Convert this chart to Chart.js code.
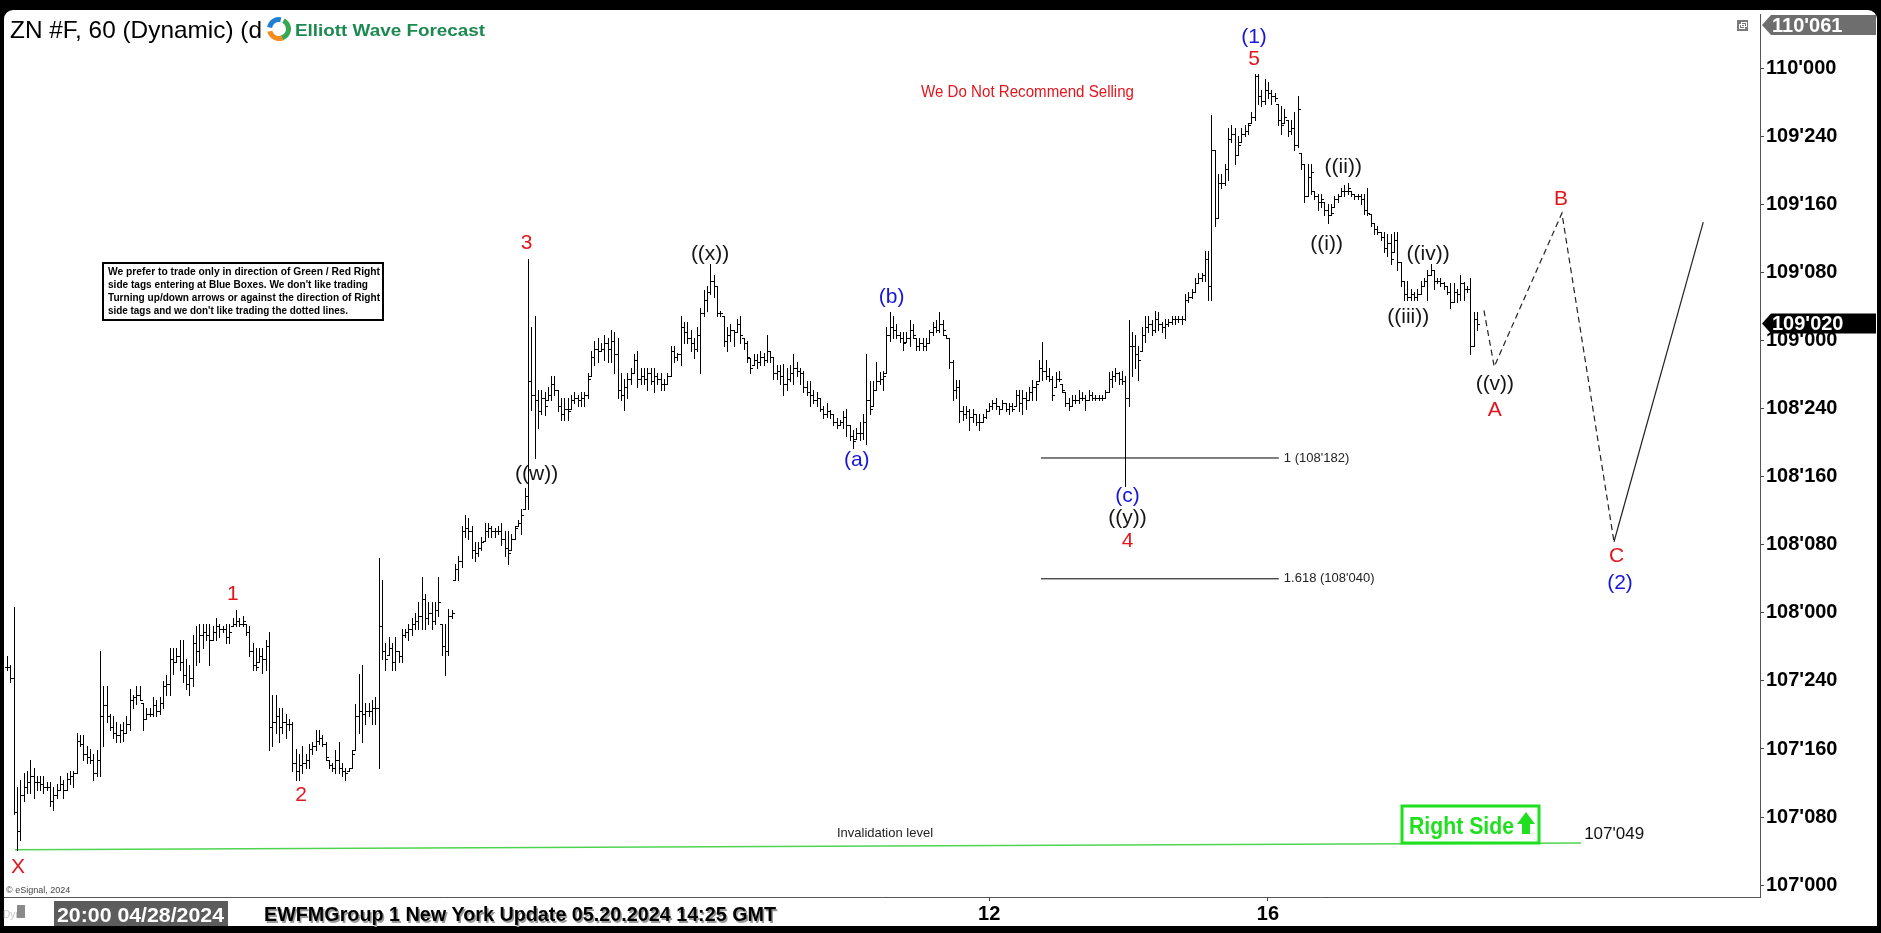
<!DOCTYPE html>
<html>
<head>
<meta charset="utf-8">
<title>ZN #F, 60</title>
<script src="https://cdn.jsdelivr.net/npm/chart.js@4.4.1/dist/chart.umd.min.js"></script>
<style>
  html, body { margin: 0; padding: 0; background: #000; overflow: hidden; }
  #wrap { width: 1881px; height: 933px; }
</style>
</head>
<body>
<div id="wrap"><canvas id="zn" width="1881" height="933"></canvas></div>
<script>
// ZN #F 60 min bars (prices in points, 32nds shown on the axis)
const highs = [
  // 04/28 .. wave 3 spike
  107.84,107.81,108.02,107.36,107.385,107.41,107.42,107.46,107.43,107.40,
  107.40,107.40,107.38,107.38,107.36,107.37,107.40,107.385,107.41,107.42,
  107.42,107.56,107.55,107.55,107.51,107.50,107.48,107.495,107.86,107.73,
  107.73,107.63,107.62,107.60,107.59,107.60,107.62,107.72,107.70,107.73,
  107.73,107.67,107.65,107.65,107.69,107.68,107.69,107.75,107.77,107.87,
  107.87,107.87,107.90,107.90,107.83,107.81,107.92,107.95,107.96,107.96,
  107.96,107.96,107.95,107.98,107.96,107.95,107.96,107.96,107.98,108.01,
  107.98,107.99,107.96,107.95,107.89,107.87,107.87,107.87,107.90,107.93,
  107.70,107.70,107.65,107.65,107.63,107.61,107.60,107.50,107.48,107.51,
  107.48,107.52,107.525,107.57,107.57,107.55,107.525,107.46,107.45,107.495,
  107.525,107.45,107.43,107.43,107.495,107.665,107.775,107.81,107.67,107.67,
  107.68,107.69,108.20,108.12,
  107.89,107.91,107.89,107.91,107.86,107.94,107.94,107.96,107.98,108.00,
  108.04,108.13,108.07,108.04,108.04,108.04,108.13,107.96,107.96,108.015,
  108.01,108.18,108.21,108.32,108.36,108.35,108.32,108.26,108.26,108.28,
  108.33,108.33,108.32,108.31,108.32,108.33,108.30,108.30,108.29,108.32,
  108.34,108.38,108.46,109.30,109.05,109.09,108.82,108.82,108.81,108.83,
  108.87,108.87,108.82,108.79,108.79,108.79,108.80,108.81,108.80,108.81,
  108.81,108.88,108.96,109.00,109.01,108.99,109.02,109.01,109.04,109.03,
  109.01,108.88,108.86,108.88,108.90,108.95,108.96,108.90,108.90,108.90,
  108.90,108.90,108.88,108.88,108.86,108.88,108.98,108.98,108.955,109.09,
  109.07,109.07,109.04,109.01,109.05,109.12,109.185,109.20,109.28,109.24,
  109.20,109.11,109.09,109.05,109.06,109.04,109.08,109.09,109.01,109.00,
  108.935,108.95,108.95,108.96,108.955,109.02,108.96,108.94,108.91,108.91,
  108.915,108.90,108.91,108.95,108.92,
  // (a) (b) (c) into wave 4
  108.90,108.89,108.85,108.85,108.82,108.81,108.79,108.76,108.77,108.745,
  108.73,108.715,108.71,108.74,108.75,108.69,108.67,108.68,108.70,108.73,
  108.95,108.85,108.85,108.92,108.885,108.89,109.05,109.105,109.09,109.06,
  109.03,109.03,109.03,109.075,109.06,109.01,109.01,109.01,109.01,109.04,
  109.07,109.075,109.105,109.075,109.02,109.01,108.93,108.855,108.855,108.76,
  108.76,108.75,108.75,108.73,108.73,108.73,108.75,108.77,108.78,108.79,
  108.76,108.78,108.77,108.77,108.77,108.82,108.82,108.82,108.81,108.83,
  108.855,108.85,108.93,108.995,108.93,108.90,108.87,108.885,108.89,108.84,
  108.81,108.79,108.80,108.80,108.82,108.81,108.80,108.82,108.81,108.80,
  108.80,108.80,108.82,108.885,108.89,108.90,108.885,108.89,108.87,109.075,
  109.03,109.02,108.98,109.05,109.09,109.09,109.075,109.11,109.105,109.07,
  109.08,109.08,109.09,109.09,109.09,109.09,109.17,109.18,109.19,109.23,
  // wave 5 and the drop from (1)
  109.25,109.25,109.33,109.33,109.83,109.70,109.61,109.61,109.65,109.78,
  109.79,109.78,109.75,109.78,109.79,109.80,109.84,109.98,109.98,109.92,
  109.96,109.95,109.92,109.91,109.87,109.86,109.85,109.81,109.81,109.84,
  109.90,109.69,109.65,109.65,109.65,109.55,109.54,109.54,109.51,109.50,
  109.50,109.53,109.54,109.56,109.57,109.58,109.55,109.54,109.54,109.54,
  109.54,109.56,109.465,109.43,109.42,109.40,109.40,109.39,109.39,109.40,
  109.40,109.29,109.22,109.22,109.19,109.18,109.19,109.22,109.23,109.26,
  109.28,109.26,109.23,109.23,109.215,109.20,109.21,109.21,109.19,109.24,
  109.215,109.20,109.23,109.105,109.105
];
const lows = [
  107.79,107.745,107.26,107.13,107.165,107.31,107.34,107.34,107.32,107.35,
  107.35,107.34,107.35,107.29,107.275,107.32,107.35,107.32,107.35,107.37,
  107.36,107.41,107.51,107.46,107.45,107.45,107.385,107.40,107.40,107.51,
  107.60,107.57,107.54,107.525,107.525,107.53,107.56,107.57,107.65,107.665,
  107.68,107.57,107.61,107.62,107.62,107.62,107.63,107.65,107.70,107.70,
  107.775,107.82,107.79,107.745,107.72,107.70,107.73,107.81,107.82,107.87,
  107.90,107.81,107.90,107.90,107.91,107.93,107.89,107.89,107.95,107.95,
  107.95,107.95,107.92,107.84,107.79,107.79,107.82,107.78,107.79,107.495,
  107.51,107.56,107.525,107.56,107.54,107.57,107.42,107.385,107.385,107.41,
  107.43,107.43,107.48,107.495,107.52,107.51,107.46,107.43,107.42,107.41,
  107.41,107.40,107.385,107.42,107.43,107.495,107.56,107.525,107.59,107.62,
  107.59,107.59,107.43,107.83,
  107.79,107.845,107.79,107.79,107.82,107.82,107.91,107.90,107.92,107.94,
  107.94,107.94,107.94,107.96,107.94,107.96,107.99,107.845,107.77,107.845,
  107.98,108.12,108.12,108.17,108.28,108.27,108.20,108.19,108.21,108.23,
  108.265,108.28,108.28,108.28,108.29,108.25,108.21,108.18,108.23,108.27,
  108.32,108.29,108.38,108.38,108.745,108.57,108.68,108.73,108.725,108.78,
  108.78,108.80,108.74,108.71,108.71,108.71,108.75,108.77,108.76,108.76,
  108.76,108.79,108.87,108.91,108.92,108.96,108.93,108.92,108.92,108.88,
  108.79,108.78,108.745,108.79,108.84,108.88,108.83,108.84,108.84,108.82,
  108.84,108.81,108.84,108.82,108.82,108.84,108.87,108.92,108.93,108.91,
  108.99,108.99,108.96,108.935,108.96,108.88,109.09,109.11,109.17,109.16,
  109.09,109.09,108.98,108.96,109.00,108.98,109.03,108.99,108.97,108.92,
  108.88,108.91,108.90,108.91,108.91,108.92,108.92,108.86,108.86,108.84,
  108.80,108.82,108.85,108.84,108.87,
  108.84,108.81,108.80,108.76,108.77,108.76,108.74,108.715,108.72,108.715,
  108.69,108.68,108.69,108.68,108.65,108.635,108.605,108.64,108.635,108.64,
  108.62,108.73,108.76,108.82,108.84,108.82,108.88,109.00,109.01,109.01,
  108.995,108.965,108.995,108.98,109.01,108.965,108.965,108.965,108.965,108.99,
  109.02,109.03,109.03,109.02,109.01,108.90,108.78,108.79,108.70,108.71,
  108.715,108.67,108.70,108.69,108.67,108.70,108.715,108.74,108.75,108.75,
  108.73,108.75,108.74,108.73,108.74,108.76,108.74,108.73,108.75,108.78,
  108.78,108.78,108.85,108.855,108.86,108.85,108.78,108.83,108.85,108.81,
  108.76,108.745,108.76,108.77,108.77,108.78,108.745,108.78,108.78,108.78,
  108.78,108.78,108.79,108.81,108.83,108.85,108.84,108.84,108.465,108.76,
  108.87,108.90,108.855,108.96,108.995,109.03,109.02,109.03,109.04,109.03,
  109.01,109.055,109.06,109.06,109.07,109.06,109.075,109.14,109.155,109.18,
  109.21,109.22,109.22,109.15,109.15,109.42,109.45,109.56,109.57,109.59,
  109.73,109.65,109.68,109.73,109.75,109.76,109.80,109.81,109.87,109.86,
  109.87,109.89,109.87,109.88,109.79,109.76,109.80,109.75,109.76,109.70,
  109.71,109.63,109.51,109.53,109.54,109.52,109.48,109.49,109.46,109.43,
  109.46,109.49,109.51,109.53,109.53,109.54,109.53,109.52,109.52,109.50,
  109.465,109.46,109.42,109.39,109.39,109.37,109.325,109.31,109.28,109.325,
  109.26,109.20,109.15,109.15,109.15,109.15,109.15,109.17,109.20,109.15,
  109.24,109.19,109.21,109.20,109.19,109.17,109.12,109.14,109.14,109.15,
  109.15,109.18,108.95,108.98,109.04
];
const closes = [
  107.80,107.76,107.27,107.20,107.33,107.36,107.38,107.40,107.38,107.38,
  107.37,107.36,107.36,107.31,107.33,107.35,107.37,107.35,107.39,107.40,
  107.41,107.53,107.52,107.48,107.47,107.46,107.41,107.46,107.62,107.66,
  107.62,107.58,107.56,107.55,107.57,107.56,107.59,107.68,107.69,107.70,
  107.68,107.61,107.63,107.63,107.66,107.64,107.67,107.73,107.74,107.83,
  107.82,107.84,107.82,107.77,107.74,107.76,107.89,107.86,107.92,107.93,
  107.92,107.90,107.93,107.95,107.94,107.94,107.91,107.93,107.96,107.97,
  107.96,107.97,107.93,107.86,107.81,107.80,107.84,107.83,107.88,107.58,
  107.60,107.62,107.58,107.60,107.59,107.59,107.45,107.42,107.44,107.45,
  107.46,107.50,107.51,107.53,107.54,107.52,107.47,107.44,107.43,107.46,
  107.43,107.42,107.41,107.43,107.48,107.62,107.64,107.63,107.64,107.64,
  107.65,107.65,107.95,107.86,
  107.83,107.87,107.82,107.86,107.84,107.92,107.93,107.94,107.96,107.97,
  107.99,108.05,107.98,108.00,107.97,108.01,108.04,107.88,107.86,107.99,
  108.00,108.16,108.19,108.30,108.31,108.30,108.23,108.22,108.24,108.26,
  108.30,108.31,108.30,108.30,108.30,108.27,108.24,108.22,108.27,108.31,
  108.33,108.36,108.43,108.85,108.80,108.78,108.74,108.79,108.76,108.80,
  108.84,108.82,108.76,108.73,108.75,108.74,108.78,108.79,108.78,108.79,
  108.80,108.86,108.94,108.97,108.96,108.97,108.99,108.97,109.00,108.95,
  108.82,108.80,108.83,108.86,108.88,108.93,108.86,108.87,108.86,108.88,
  108.85,108.87,108.86,108.84,108.84,108.87,108.96,108.94,108.95,109.05,
  109.03,109.01,108.99,108.97,109.02,109.10,109.15,109.18,109.22,109.20,
  109.10,109.10,109.00,109.02,109.04,109.03,109.06,109.02,108.99,108.94,
  108.90,108.93,108.92,108.94,108.93,108.96,108.94,108.88,108.89,108.87,
  108.84,108.86,108.88,108.90,108.89,
  108.88,108.83,108.81,108.80,108.78,108.79,108.75,108.73,108.74,108.73,
  108.70,108.69,108.70,108.72,108.69,108.65,108.63,108.66,108.66,108.70,
  108.78,108.75,108.82,108.85,108.86,108.87,109.02,109.05,109.04,109.02,
  109.01,108.99,109.01,109.04,109.02,108.98,108.99,108.98,108.99,109.03,
  109.05,109.04,109.06,109.04,109.01,108.92,108.82,108.83,108.74,108.73,
  108.74,108.72,108.73,108.70,108.70,108.72,108.74,108.76,108.77,108.76,
  108.75,108.77,108.75,108.76,108.75,108.80,108.77,108.79,108.78,108.81,
  108.83,108.84,108.90,108.89,108.87,108.86,108.80,108.86,108.86,108.82,
  108.77,108.76,108.78,108.78,108.79,108.79,108.78,108.80,108.79,108.79,
  108.79,108.79,108.81,108.86,108.87,108.88,108.86,108.85,108.79,108.98,
  108.98,108.95,108.93,109.02,109.05,109.06,109.04,109.08,109.06,109.05,
  109.06,109.07,109.08,109.08,109.08,109.08,109.15,109.16,109.18,109.21,
  109.23,109.24,109.30,109.20,109.70,109.45,109.58,109.58,109.63,109.74,
  109.76,109.68,109.72,109.76,109.77,109.79,109.82,109.97,109.90,109.88,
  109.92,109.91,109.90,109.89,109.81,109.79,109.82,109.77,109.78,109.72,
  109.85,109.65,109.53,109.60,109.62,109.53,109.51,109.52,109.48,109.46,
  109.47,109.52,109.53,109.55,109.55,109.56,109.54,109.53,109.53,109.52,
  109.48,109.47,109.43,109.41,109.40,109.38,109.34,109.36,109.30,109.37,
  109.29,109.22,109.17,109.16,109.17,109.16,109.17,109.20,109.22,109.24,
  109.26,109.22,109.22,109.21,109.20,109.18,109.14,109.18,109.17,109.21,
  109.19,109.19,108.98,109.08,109.06
];

// date axis (bar index of the day marks)
const dayTickIdx = [296, 380];
const dayTickLabels = ['12', '16'];

// price axis, every 8/32
const priceTicks = [107, 107.25, 107.5, 107.75, 108, 108.25, 108.5, 108.75, 109, 109.25, 109.5, 109.75, 110];

// right side price tags
const lastPrice = 109.0625;   // 109'020
const topPrice = 110.190625;  // 110'061

// fib extension of the (a)-(b)-(c) move
const fibLevels = [108.56875, 108.125];
const fibRatios = ['1', '1.618'];
const fibStart = 311.6, fibEnd = 383.3;

// projected path ((v)) / A - B - C then higher
const pathIdx = [445.1, 448.2, 468.6, 484.3, 511.2];
const pathPrice = [109.111, 108.904, 109.468, 108.261, 109.435];

// invalidation level
const invalidIdx = [2.4, 474.4];
const invalidPrice = [107.13, 107.155];
const invalidLevel = 107.153125;

// wave labels: text, bar index, price, colour key
const waveLabels = [
  ['X', 3.3, 107.066, 'r'], ['1', 68.1, 108.069, 'r'], ['2', 88.6, 107.33, 'r'],
  ['3', 156.6, 109.359, 'r'], ['((w))', 159.6, 108.51, 'k'], ['((x))', 211.9, 109.317, 'k'],
  ['(a)', 256.1, 108.562, 'b'], ['(b)', 266.6, 109.16, 'b'], ['(c)', 337.7, 108.428, 'b'],
  ['((y))', 337.7, 108.346, 'k'], ['4', 337.7, 108.263, 'r'], ['(1)', 375.8, 110.115, 'b'],
  ['5', 375.8, 110.032, 'r'], ['((i))', 397.7, 109.355, 'k'], ['((ii))', 402.7, 109.636, 'k'],
  ['((iii))', 422.3, 109.087, 'k'], ['((iv))', 428.3, 109.319, 'k'], ['((v))', 448.4, 108.841, 'k'],
  ['A', 448.4, 108.746, 'r'], ['B', 468.3, 109.52, 'r'], ['C', 485.1, 108.208, 'r'],
  ['(2)', 486.1, 108.11, 'b']
];
const labelColors = { r: '#e3161d', b: '#1616d8', k: '#161616' };

const FONT = "'Liberation Sans', Arial, sans-serif";
const n = Math.min(highs.length, lows.length, closes.length);

// open = previous close, kept inside the bar
const opens = closes.map((c, i) => {
  const o = i === 0 ? c : closes[i - 1];
  return Math.min(highs[i], Math.max(lows[i], o));
});

function fmt32(v) {
  const whole = Math.floor(v + 1e-9);
  const t = Math.round((v - whole) * 320);
  return whole + "'" + String(t).padStart(3, '0');
}

// draw text squeezed/stretched to a given width
function fitText(ctx, text, x, y, w) {
  const m = ctx.measureText(text).width;
  ctx.save();
  ctx.translate(x, y);
  ctx.scale(w / m, 1);
  ctx.textAlign = 'left';
  ctx.fillText(text, 0, 0);
  ctx.restore();
}

const barData = [];
for (let i = 0; i < n; i++) barData.push({ x: i, y: [lows[i], highs[i]] });

const lineSet = (xs, ys, color, dash, width) => ({
  type: 'line',
  data: xs.map((x, i) => ({ x: x, y: ys[i] })),
  borderColor: color,
  borderWidth: width || 1,
  borderDash: dash || [],
  pointRadius: 0,
  tension: 0,
  fill: false
});

// bars: crisp 1px high-low line, open tick left, close tick right
const ohlcPlugin = {
  id: 'ohlc',
  beforeDatasetDraw(chart, args) {
    if (args.index !== 0) return;
    const ctx = chart.ctx, ys = chart.scales.y;
    ctx.save();
    ctx.fillStyle = '#000';
    args.meta.data.forEach((bar, i) => {
      const x = Math.round(bar.x);
      const top = Math.round(Math.min(bar.y, bar.base));
      const bot = Math.round(Math.max(bar.y, bar.base));
      ctx.fillRect(x, top, 1, Math.max(1, bot - top + 1));
      ctx.fillRect(x - 2, Math.round(ys.getPixelForValue(opens[i])), 2, 1);
      ctx.fillRect(x + 1, Math.round(ys.getPixelForValue(closes[i])), 2, 1);
    });
    ctx.restore();
    return false;
  }
};

const framePlugin = {
  id: 'frame',
  beforeDraw(chart) {
    const ctx = chart.ctx;
    ctx.save();
    ctx.fillStyle = '#000';
    ctx.fillRect(0, 0, chart.width, chart.height);
    ctx.fillStyle = '#fff';
    ctx.beginPath();
    ctx.roundRect(4, 10, 1873, 916, [9, 9, 0, 0]);
    ctx.fill();
    ctx.restore();
  },
  afterDraw(chart) {
    const ctx = chart.ctx, xs = chart.scales.x, ys = chart.scales.y;
    const px = v => xs.getPixelForValue(v), py = v => ys.getPixelForValue(v);
    ctx.save();

    // title + logo
    ctx.fillStyle = '#000';
    ctx.textBaseline = 'alphabetic';
    ctx.font = '24px ' + FONT;
    fitText(ctx, 'ZN #F, 60 (Dynamic) (d', 10, 37.5, 252);
    const lx = 279, ly = 29;
    ctx.lineWidth = 5;
    [['#1f7fd3', 3.3, 4.9], ['#34a853', 5.2, 7.6], ['#f28c1e', 1.2, 2.9]].forEach(a => {
      ctx.strokeStyle = a[0];
      ctx.beginPath();
      ctx.arc(lx, ly, 9.5, a[1], a[2]);
      ctx.stroke();
    });
    ctx.fillStyle = '#1b8a50';
    ctx.font = 'bold 16px ' + FONT;
    fitText(ctx, 'Elliott Wave Forecast', 295, 36, 190);

    // restore icon
    ctx.fillStyle = '#7a7a7a';
    ctx.fillRect(1737, 20, 11, 11);
    ctx.strokeStyle = '#fff';
    ctx.lineWidth = 1;
    ctx.strokeRect(1739.5, 24.5, 5, 4);
    ctx.strokeRect(1741.5, 22.5, 5, 4);

    // red note
    ctx.fillStyle = '#e3161d';
    ctx.font = '16px ' + FONT;
    fitText(ctx, 'We Do Not Recommend Selling', 921, 97, 213);

    // rules box
    ctx.fillStyle = '#fff';
    ctx.fillRect(103, 263, 280, 57);
    ctx.strokeStyle = '#000';
    ctx.lineWidth = 2;
    ctx.strokeRect(103, 263, 280, 57);
    ctx.fillStyle = '#000';
    ctx.font = 'bold 10.5px ' + FONT;
    const rules = [
      'We prefer to trade only in direction of Green / Red Right',
      "side tags entering at Blue Boxes. We don't like trading",
      'Turning up/down arrows or against the direction of Right',
      "side tags and we don't like trading the dotted lines."
    ];
    const ruleW = [272, 260, 272, 240];
    rules.forEach((t, i) => fitText(ctx, t, 108, 275 + i * 13, ruleW[i]));

    // fib labels
    ctx.fillStyle = '#222';
    ctx.font = '13px ' + FONT;
    ctx.textBaseline = 'middle';
    ctx.textAlign = 'left';
    fibLevels.forEach((lv, i) => {
      ctx.fillText(fibRatios[i] + ' (' + fmt32(lv) + ')', px(fibEnd) + 5, py(lv));
    });

    // invalidation
    ctx.font = '13px ' + FONT;
    ctx.textAlign = 'center';
    ctx.fillText('Invalidation level', 885, 833);
    ctx.fillStyle = '#111';
    ctx.font = '17px ' + FONT;
    ctx.textAlign = 'left';
    ctx.fillText(fmt32(invalidLevel), px(invalidIdx[1]) + 3, py(invalidLevel) - 9);

    // right side box
    ctx.strokeStyle = '#1fe01f';
    ctx.lineWidth = 3;
    ctx.strokeRect(1402, 806, 137, 37);
    ctx.fillStyle = '#1fe01f';
    ctx.font = 'bold 23px ' + FONT;
    ctx.textBaseline = 'alphabetic';
    fitText(ctx, 'Right Side', 1409, 834, 105);
    ctx.beginPath();
    ctx.moveTo(1517, 824); ctx.lineTo(1535, 824); ctx.lineTo(1526, 812); ctx.closePath();
    ctx.fill();
    ctx.fillRect(1522, 823, 8, 11);

    // wave labels
    ctx.textAlign = 'center';
    ctx.textBaseline = 'middle';
    ctx.font = '21px ' + FONT;
    waveLabels.forEach(w => {
      ctx.fillStyle = labelColors[w[3]];
      ctx.fillText(w[0], px(w[1]), py(w[2]));
    });

    // price tags
    const tag = (v, bg) => {
      const y = Math.max(chart.chartArea.top + 11, py(v));
      ctx.fillStyle = bg;
      ctx.beginPath();
      ctx.moveTo(1762, y);
      ctx.lineTo(1771, y - 10);
      ctx.lineTo(1876, y - 10);
      ctx.lineTo(1876, y + 10);
      ctx.lineTo(1771, y + 10);
      ctx.closePath();
      ctx.fill();
      ctx.fillStyle = '#fff';
      ctx.font = 'bold 20px ' + FONT;
      ctx.textAlign = 'left';
      ctx.textBaseline = 'middle';
      ctx.fillText(fmt32(v), 1772, y + 1);
    };
    tag(topPrice, '#6e6e6e');
    tag(lastPrice, '#000');

    // bottom strip
    ctx.textBaseline = 'alphabetic';
    ctx.fillStyle = '#444';
    ctx.font = '9px ' + FONT;
    ctx.fillText('\u00a9 eSignal, 2024', 6, 893);
    ctx.fillStyle = '#c4c4c4';
    ctx.font = '10px ' + FONT;
    ctx.fillText('Dyn', 3, 918);
    ctx.fillStyle = '#8a8a8a';
    ctx.fillRect(17, 905, 8, 13);
    ctx.fillStyle = '#5c5c5c';
    ctx.fillRect(54, 901, 174, 25);
    ctx.fillStyle = '#fff';
    ctx.font = 'bold 21px ' + FONT;
    fitText(ctx, '20:00 04/28/2024', 57, 922, 167);
    ctx.font = 'bold 21px ' + FONT;
    ctx.fillStyle = '#9a9a9a';
    fitText(ctx, 'EWFMGroup 1 New York Update 05.20.2024 14:25 GMT', 265.5, 922.5, 512);
    ctx.fillStyle = '#000';
    fitText(ctx, 'EWFMGroup 1 New York Update 05.20.2024 14:25 GMT', 264, 921, 512);

    ctx.restore();
  }
};

new Chart(document.getElementById('zn'), {
  type: 'bar',
  data: {
    datasets: [
      { data: barData, backgroundColor: '#000', barThickness: 1, borderWidth: 0 },
      lineSet([fibStart, fibEnd], [fibLevels[0], fibLevels[0]], '#000'),
      lineSet([fibStart, fibEnd], [fibLevels[1], fibLevels[1]], '#000'),
      lineSet(invalidIdx, invalidPrice, '#4fd44f', [], 1.5),
      lineSet(pathIdx.slice(0, 4), pathPrice.slice(0, 4), '#222', [6, 4], 1.2),
      lineSet(pathIdx.slice(3), pathPrice.slice(3), '#222', [], 1.2)
    ]
  },
  options: {
    responsive: false,
    devicePixelRatio: 1,
    animation: false,
    layout: { padding: { left: 4, top: 11, right: 0, bottom: 0 } },
    plugins: { legend: { display: false }, tooltip: { enabled: false } },
    scales: {
      x: {
        type: 'linear',
        min: -0.9,
        max: 528.3,
        offset: false,
        bounds: 'data',
        afterFit(s) { s.height = 36; },
        afterBuildTicks(s) { s.ticks = dayTickIdx.map(v => ({ value: v })); },
        grid: { drawOnChartArea: false, drawTicks: true, tickLength: 4, color: '#444', offset: false },
        border: { display: true, color: '#555' },
        ticks: {
          autoSkip: false,
          maxRotation: 0,
          padding: 1,
          color: '#000',
          font: { family: FONT, size: 20, weight: 'bold' },
          callback: v => {
            const k = dayTickIdx.indexOf(v);
            return k >= 0 ? dayTickLabels[k] : '';
          }
        }
      },
      y: {
        type: 'linear',
        position: 'right',
        min: 106.9564,
        max: 110.1994,
        bounds: 'data',
        afterFit(s) { s.width = 121; },
        afterBuildTicks(s) { s.ticks = priceTicks.map(v => ({ value: v })); },
        grid: { drawOnChartArea: false, drawTicks: true, tickLength: 4, color: '#444' },
        border: { display: true, color: '#555' },
        ticks: {
          autoSkip: false,
          padding: 2,
          color: '#000',
          font: { family: FONT, size: 20, weight: 'bold' },
          callback: v => fmt32(v)
        }
      }
    }
  },
  plugins: [ohlcPlugin, framePlugin]
});
</script>
</body>
</html>
